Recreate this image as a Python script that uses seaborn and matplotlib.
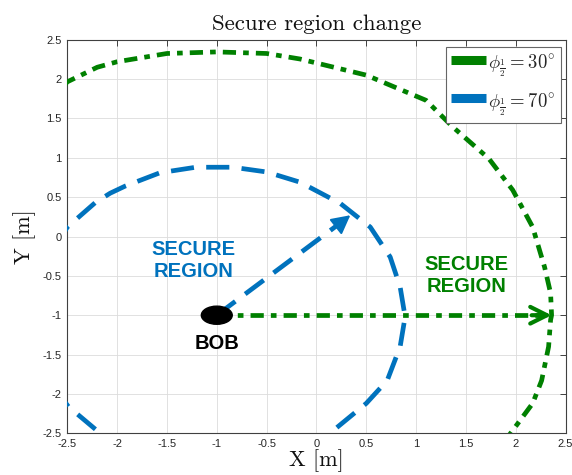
import matplotlib
matplotlib.use("Agg")
import matplotlib.pyplot as plt
from matplotlib.lines import Line2D
from matplotlib.patches import Ellipse
import seaborn as sns
import pandas as pd

# Secure-region boundaries (metres), traced as polygons around Bob
green_x = [-2.75, -2.5, -2.2, -2.0, -1.5, -1.0, -0.5, -0.165, 0.5, 1.1, 1.37, 1.73,
           1.97, 2.17, 2.29, 2.35, 2.36, 2.35, 2.33, 2.26, 2.17, 1.96, 1.8]
green_y = [1.6, 1.965, 2.15, 2.22, 2.325, 2.345, 2.325, 2.255, 2.05, 1.73, 1.39, 0.99,
           0.59, 0.12, -0.39, -0.72, -1.0, -1.06, -1.40, -1.83, -2.12, -2.48, -2.75]

blue_x = [-2.8, -2.5, -2.22, -2.07, -1.92, -1.57, -1.21, -0.84, -0.5, -0.165, 0.24, 0.54,
          0.74, 0.84, 0.89, 0.84, 0.71, 0.50, 0.135, -0.2, -1.0, -1.8, -2.17, -2.49, -2.7]
blue_y = [-0.5, 0.12, 0.43, 0.55, 0.64, 0.81, 0.88, 0.88, 0.82, 0.69, 0.42, 0.12,
          -0.26, -0.64, -1.02, -1.40, -1.83, -2.12, -2.5, -2.8, -2.9, -2.8, -2.5, -2.16, -1.8]

bob = (-1.0, -1.0)
green_tip = (2.36, -1.0)
blue_tip = (0.34, 0.27)

legend_labels = [r"$\phi_{\frac{1}{2}}=30^{\circ}$", r"$\phi_{\frac{1}{2}}=70^{\circ}$"]
ticks = [-2.5, -2, -1.5, -1, -0.5, 0, 0.5, 1, 1.5, 2, 2.5]
tick_labels = ["-2.5", "-2", "-1.5", "-1", "-0.5", "0", "0.5", "1", "1.5", "2", "2.5"]

GREEN = "#008000"
BLUE = "#0072BD"

sns.set_theme(style="white")
plt.rcParams["mathtext.fontset"] = "cm"
plt.rcParams["font.family"] = ["Liberation Sans", "DejaVu Sans"]

fig = plt.figure(figsize=(5.72, 4.75), dpi=100)
ax = fig.add_axes([0.1177, 0.0878, 0.871, 0.8286])

df_g = pd.DataFrame({"x": green_x, "y": green_y})
df_b = pd.DataFrame({"x": blue_x, "y": blue_y})

sns.lineplot(data=df_g, x="x", y="y", sort=False, estimator=None, ax=ax,
             color=GREEN, lw=3.4, zorder=3)
sns.lineplot(data=df_b, x="x", y="y", sort=False, estimator=None, ax=ax,
             color=BLUE, lw=3.4, zorder=3)
lg, lb = ax.get_lines()[-2:]
lg.set_dashes([2.8, 1.5, 1.2, 1.5])
lb.set_dashes([4.9, 2.6])

# Radial arrows from Bob
df_ga = pd.DataFrame({"x": [bob[0], green_tip[0] - 0.05], "y": [bob[1], green_tip[1]]})
df_ba = pd.DataFrame({"x": [bob[0], blue_tip[0] - 0.06], "y": [bob[1], blue_tip[1] - 0.06]})
sns.lineplot(data=df_ga, x="x", y="y", sort=False, estimator=None, ax=ax,
             color=GREEN, lw=3.4, zorder=3)
sns.lineplot(data=df_ba, x="x", y="y", sort=False, estimator=None, ax=ax,
             color=BLUE, lw=3.4, zorder=3)
la_g, la_b = ax.get_lines()[-2:]
la_g.set_dashes([2.8, 1.5, 1.2, 1.5])
la_b.set_dashes([4.9, 2.6])
for ln in (lg, lb, la_g, la_b):
    ln.set_solid_capstyle("butt")
    ln.set_dash_capstyle("butt")

ax.annotate("", xy=green_tip, xytext=(green_tip[0] - 0.2, green_tip[1]),
            arrowprops=dict(arrowstyle="->,head_length=1.0,head_width=0.5",
                            color=GREEN, lw=3.0, shrinkA=0, shrinkB=0), zorder=4)
ax.annotate("", xy=blue_tip, xytext=(blue_tip[0] - 0.15, blue_tip[1] - 0.15),
            arrowprops=dict(arrowstyle="-|>,head_length=0.95,head_width=0.5",
                            color=BLUE, lw=1.5, shrinkA=0, shrinkB=0), zorder=4)

ax.add_patch(Ellipse(bob, 0.31, 0.23, color="black", zorder=5))

ax.text(-1.23, -0.30, "SECURE\nREGION", color=BLUE, fontsize=14.5, fontweight="bold",
        ha="center", va="center", linespacing=1.2)
ax.text(1.51, -0.50, "SECURE\nREGION", color=GREEN, fontsize=14.5, fontweight="bold",
        ha="center", va="center", linespacing=1.2)
ax.text(-1.0, -1.36, "BOB", color="black", fontsize=14.5, fontweight="bold",
        ha="center", va="center")

ax.set_xlim(-2.5, 2.5)
ax.set_ylim(-2.5, 2.5)
ax.set_xticks(ticks)
ax.set_xticklabels(tick_labels)
ax.set_yticks(ticks)
ax.set_yticklabels(tick_labels)
ax.tick_params(direction="in", length=4.5, width=0.6, colors="#262626",
               labelsize=8, top=True, right=True, pad=4)
ax.grid(True, color="#dcdcdc", lw=0.6)
for sp in ax.spines.values():
    sp.set_color("#404040")
    sp.set_linewidth(0.8)

ax.set_title("Secure region change", family="cmr10", fontsize=16.5, pad=7, color="#111111")
ax.set_xlabel("X [m]", family="cmr10", fontsize=16, labelpad=0, color="#111111")
ax.set_ylabel("Y [m]", family="cmr10", fontsize=16, labelpad=5, color="#111111")

handles = [Line2D([], [], color=GREEN, lw=6.5, solid_capstyle="butt"),
           Line2D([], [], color=BLUE, lw=6.5, solid_capstyle="butt")]
leg = ax.legend(handles, legend_labels, loc="upper right", bbox_to_anchor=(0.99, 0.982),
                fontsize=13.5, frameon=True, fancybox=False, framealpha=1,
                handlelength=1.87, handleheight=1.36, handletextpad=0.12,
                labelspacing=0.57, borderpad=0.27, borderaxespad=0)
leg.get_frame().set_edgecolor("#666666")
leg.get_frame().set_linewidth(0.8)

fig.savefig("out.png", dpi=100)
